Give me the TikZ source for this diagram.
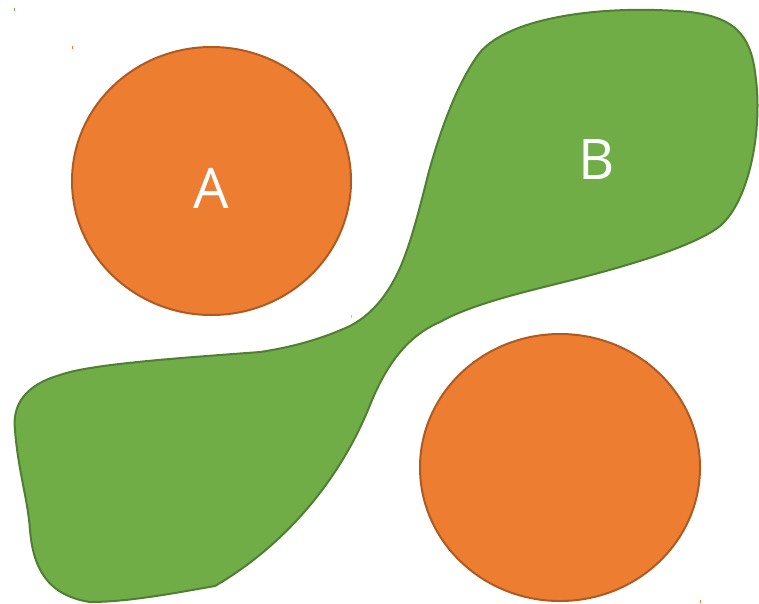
\documentclass[tikz,border=0pt]{standalone}
\usepackage{fontspec}
\setmainfont{Open Sans}
\definecolor{orangefill}{HTML}{ED7D31}
\definecolor{orangeline}{HTML}{AE5A21}
\definecolor{greenfill}{HTML}{70AD47}
\definecolor{greenline}{HTML}{507E32}
\tikzset{
  disc/.style={fill=orangefill, draw=orangeline, line width=2pt},
  blob/.style={fill=greenfill, draw=greenline, line width=2pt, line join=round},
  setlabel/.style={text=white, font=\fontsize{56}{60}\selectfont, inner sep=0pt},
  speck/.style={fill=#1, draw=none}
}
\begin{document}
\begin{tikzpicture}[x=1pt, y=-1pt]
  \useasboundingbox (0,0) rectangle (759,603);

  % set B: the large green shape, traced as cubic Bezier pieces
  \draw[blob] (215,586)
    .. controls (285,545) and (340,480) .. (370,405)
    .. controls (385,368) and (405,337) .. (440,322)
    .. controls (470,305) and (520,293) .. (560,283)
    .. controls (600,273) and (690,250) .. (720,226)
    .. controls (750,200) and (762,130) .. (756,80)
    .. controls (752,40) and (740,18) .. (690,12)
    .. controls (600,4) and (505,18) .. (478,55)
    .. controls (460,80) and (443,120) .. (428,175)
    .. controls (418,215) and (410,245) .. (400,268)
    .. controls (390,290) and (375,313) .. (350,326)
    .. controls (328,336) and (300,346) .. (260,352)
    .. controls (180,358) and (90,364) .. (60,375)
    .. controls (25,385) and (12,405) .. (15,430)
    .. controls (18,470) and (28,500) .. (30,530)
    .. controls (33,565) and (45,595) .. (90,602)
    .. controls (130,602) and (180,592) .. (215,586)
    -- cycle;

  % the two orange discs
  \draw[disc] (211.5,181) ellipse [x radius=139.5, y radius=134];
  \draw[disc] (560,467.5) ellipse [x radius=140, y radius=133.5];

  % labels
  \node[setlabel] (labelA) at (211,188) {A};
  \node[setlabel] (labelB) at (597,160) {B};

  % small marks
  \fill[speck=greenfill] (13.5,7.5) rectangle (14.5,10.5);
  \fill[speck=orangefill] (71.5,46) rectangle (72.5,49);
  \fill[speck=orangefill!60] (350.5,315) rectangle (351.5,318);
  \fill[speck=orangefill] (699.5,600) rectangle (700.5,603);
\end{tikzpicture}
\end{document}
